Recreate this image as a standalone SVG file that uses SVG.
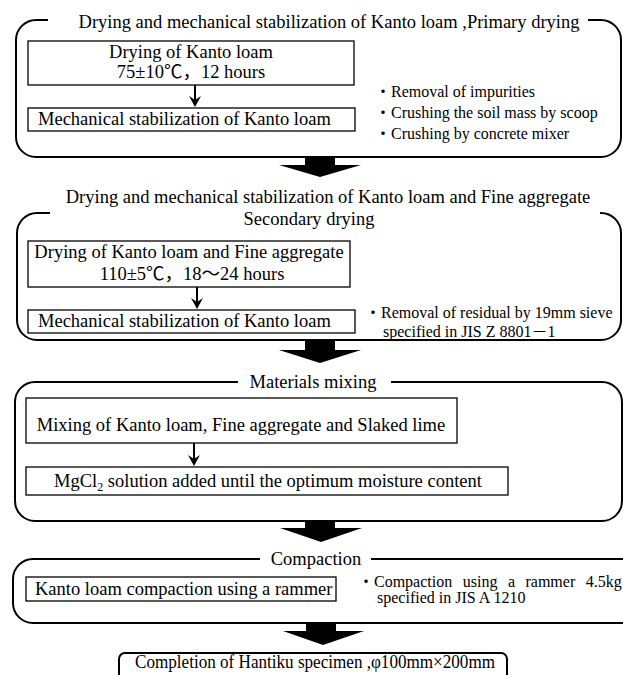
<svg xmlns="http://www.w3.org/2000/svg" width="623" height="675" viewBox="0 0 623 675">
<style>
text{font-family:"Liberation Serif","Noto Sans CJK JP",serif;fill:#000}
.t{font-size:18.5px}
.b{font-size:16px}
.outer{fill:none;stroke:#000;stroke-width:2}
.inner{fill:#fff;stroke:#000;stroke-width:1.3}
.ln{stroke:#000;stroke-width:2;fill:none}
.big{fill:#000}
</style>
<rect width="623" height="675" fill="#fff"/>

<g id="stage1">
<path class="outer" d="M48,20 H36 A20,20 0 0 0 16,40 V137 A20,20 0 0 0 36,157 H601 A20,20 0 0 0 621,137 V40 A20,20 0 0 0 601,20 H588"/>
<text class="t" x="329" y="28" text-anchor="middle">Drying and mechanical stabilization of Kanto loam ,Primary drying</text>
<g id="n1a"><rect class="inner" x="28" y="41" width="326" height="44"/>
<text class="t" x="191" y="58" text-anchor="middle">Drying of Kanto loam</text>
<text class="t" x="191" y="78" text-anchor="middle">75±10℃，12 hours</text></g>
<g id="n1b"><rect class="inner" x="28" y="108" width="327" height="23"/>
<text class="t" x="38" y="125">Mechanical stabilization of Kanto loam</text></g>
<g id="n1notes">
<text class="b" x="375" y="97">・Removal of impurities</text>
<text class="b" x="375" y="118">・Crushing the soil mass by scoop</text>
<text class="b" x="375" y="139">・Crushing by concrete mixer</text></g>
</g>

<g id="stage2">
<path class="outer" d="M50,213 H37 A20,20 0 0 0 17,233 V320 A20,20 0 0 0 37,340 H601 A20,20 0 0 0 621,320 V233 A20,20 0 0 0 601,213 H600"/>
<text class="t" x="328" y="203" text-anchor="middle">Drying and mechanical stabilization of Kanto loam and Fine aggregate</text>
<text class="t" x="309" y="225" text-anchor="middle">Secondary drying</text>
<g id="n2a"><rect class="inner" x="28" y="241" width="322" height="46"/>
<text class="t" x="189" y="258" text-anchor="middle">Drying of Kanto loam and Fine aggregate</text>
<text class="t" x="192" y="280" text-anchor="middle">110±5℃，18～24 hours</text></g>
<g id="n2b"><rect class="inner" x="28" y="310" width="327" height="23"/>
<text class="t" x="38" y="327">Mechanical stabilization of Kanto loam</text></g>
<g id="n2notes">
<text class="b" x="365" y="318">・Removal of residual by 19mm sieve</text>
<text class="b" x="383" y="337">specified in JIS Z 8801－1</text></g>
</g>

<g id="stage3">
<path class="outer" d="M238,382 H35 A20,20 0 0 0 15,402 V501 A20,20 0 0 0 35,521 H602 A20,20 0 0 0 622,501 V402 A20,20 0 0 0 602,382 H391"/>
<text class="t" x="313" y="388" text-anchor="middle">Materials mixing</text>
<g id="n3a"><rect class="inner" x="26" y="398" width="431" height="45"/>
<text class="t" x="241" y="431" text-anchor="middle">Mixing of Kanto loam, Fine aggregate and Slaked lime</text></g>
<g id="n3b"><rect class="inner" x="26" y="467" width="482" height="28"/>
<text class="t" x="54" y="487">MgCl<tspan font-size="12" dy="4">2</tspan><tspan dy="-4"> solution added until the optimum moisture content</tspan></text></g>
</g>

<g id="stage4">
<path class="outer" d="M260,559 H33 A20,20 0 0 0 13,579 V603 A20,20 0 0 0 33,623 H640 M640,559 H371"/>
<text class="t" x="316" y="565" text-anchor="middle">Compaction</text>
<g id="n4a"><rect class="inner" x="26" y="577" width="310" height="24"/>
<text class="t" x="35" y="595">Kanto loam compaction using a rammer</text></g>
<g id="n4notes">
<text class="b" x="358" y="587" word-spacing="6.5">・Compaction using a rammer 4.5kg</text>
<text class="b" x="377" y="603">specified in JIS A 1210</text></g>
</g>

<g id="final">
<path class="outer" d="M119,676 V659 A6,6 0 0 1 125,653 H501 A6,6 0 0 1 507,659 V676"/>
<text class="t" x="135" y="668" font-size="17.5" textLength="360" lengthAdjust="spacingAndGlyphs">Completion of Hantiku specimen ,φ100mm×200mm</text>
</g>

<g id="connectors">
<path class="ln" d="M195,85 V104"/>
<path class="big" d="M189,96 L195,107 L201,96 L195,100 Z"/>
<path class="ln" d="M197,287 V306"/>
<path class="big" d="M191,298 L197,309 L203,298 L197,302 Z"/>
<path class="ln" d="M194,443 V463"/>
<path class="big" d="M188,455 L194,466 L200,455 L194,459 Z"/>
<path class="big" d="M305,157 H335 V165 H361 L320,177 L279,165 H305 Z"/>
<path class="big" d="M305,340 H335 V350 H361 L320,363 L279,350 H305 Z"/>
<path class="big" d="M305,521 H335 V528 H362 L321,542 L280,528 H305 Z"/>
<path class="big" d="M306,623 H336 V631 H364 L323,645 L283,631 H306 Z"/>
</g>
</svg>
